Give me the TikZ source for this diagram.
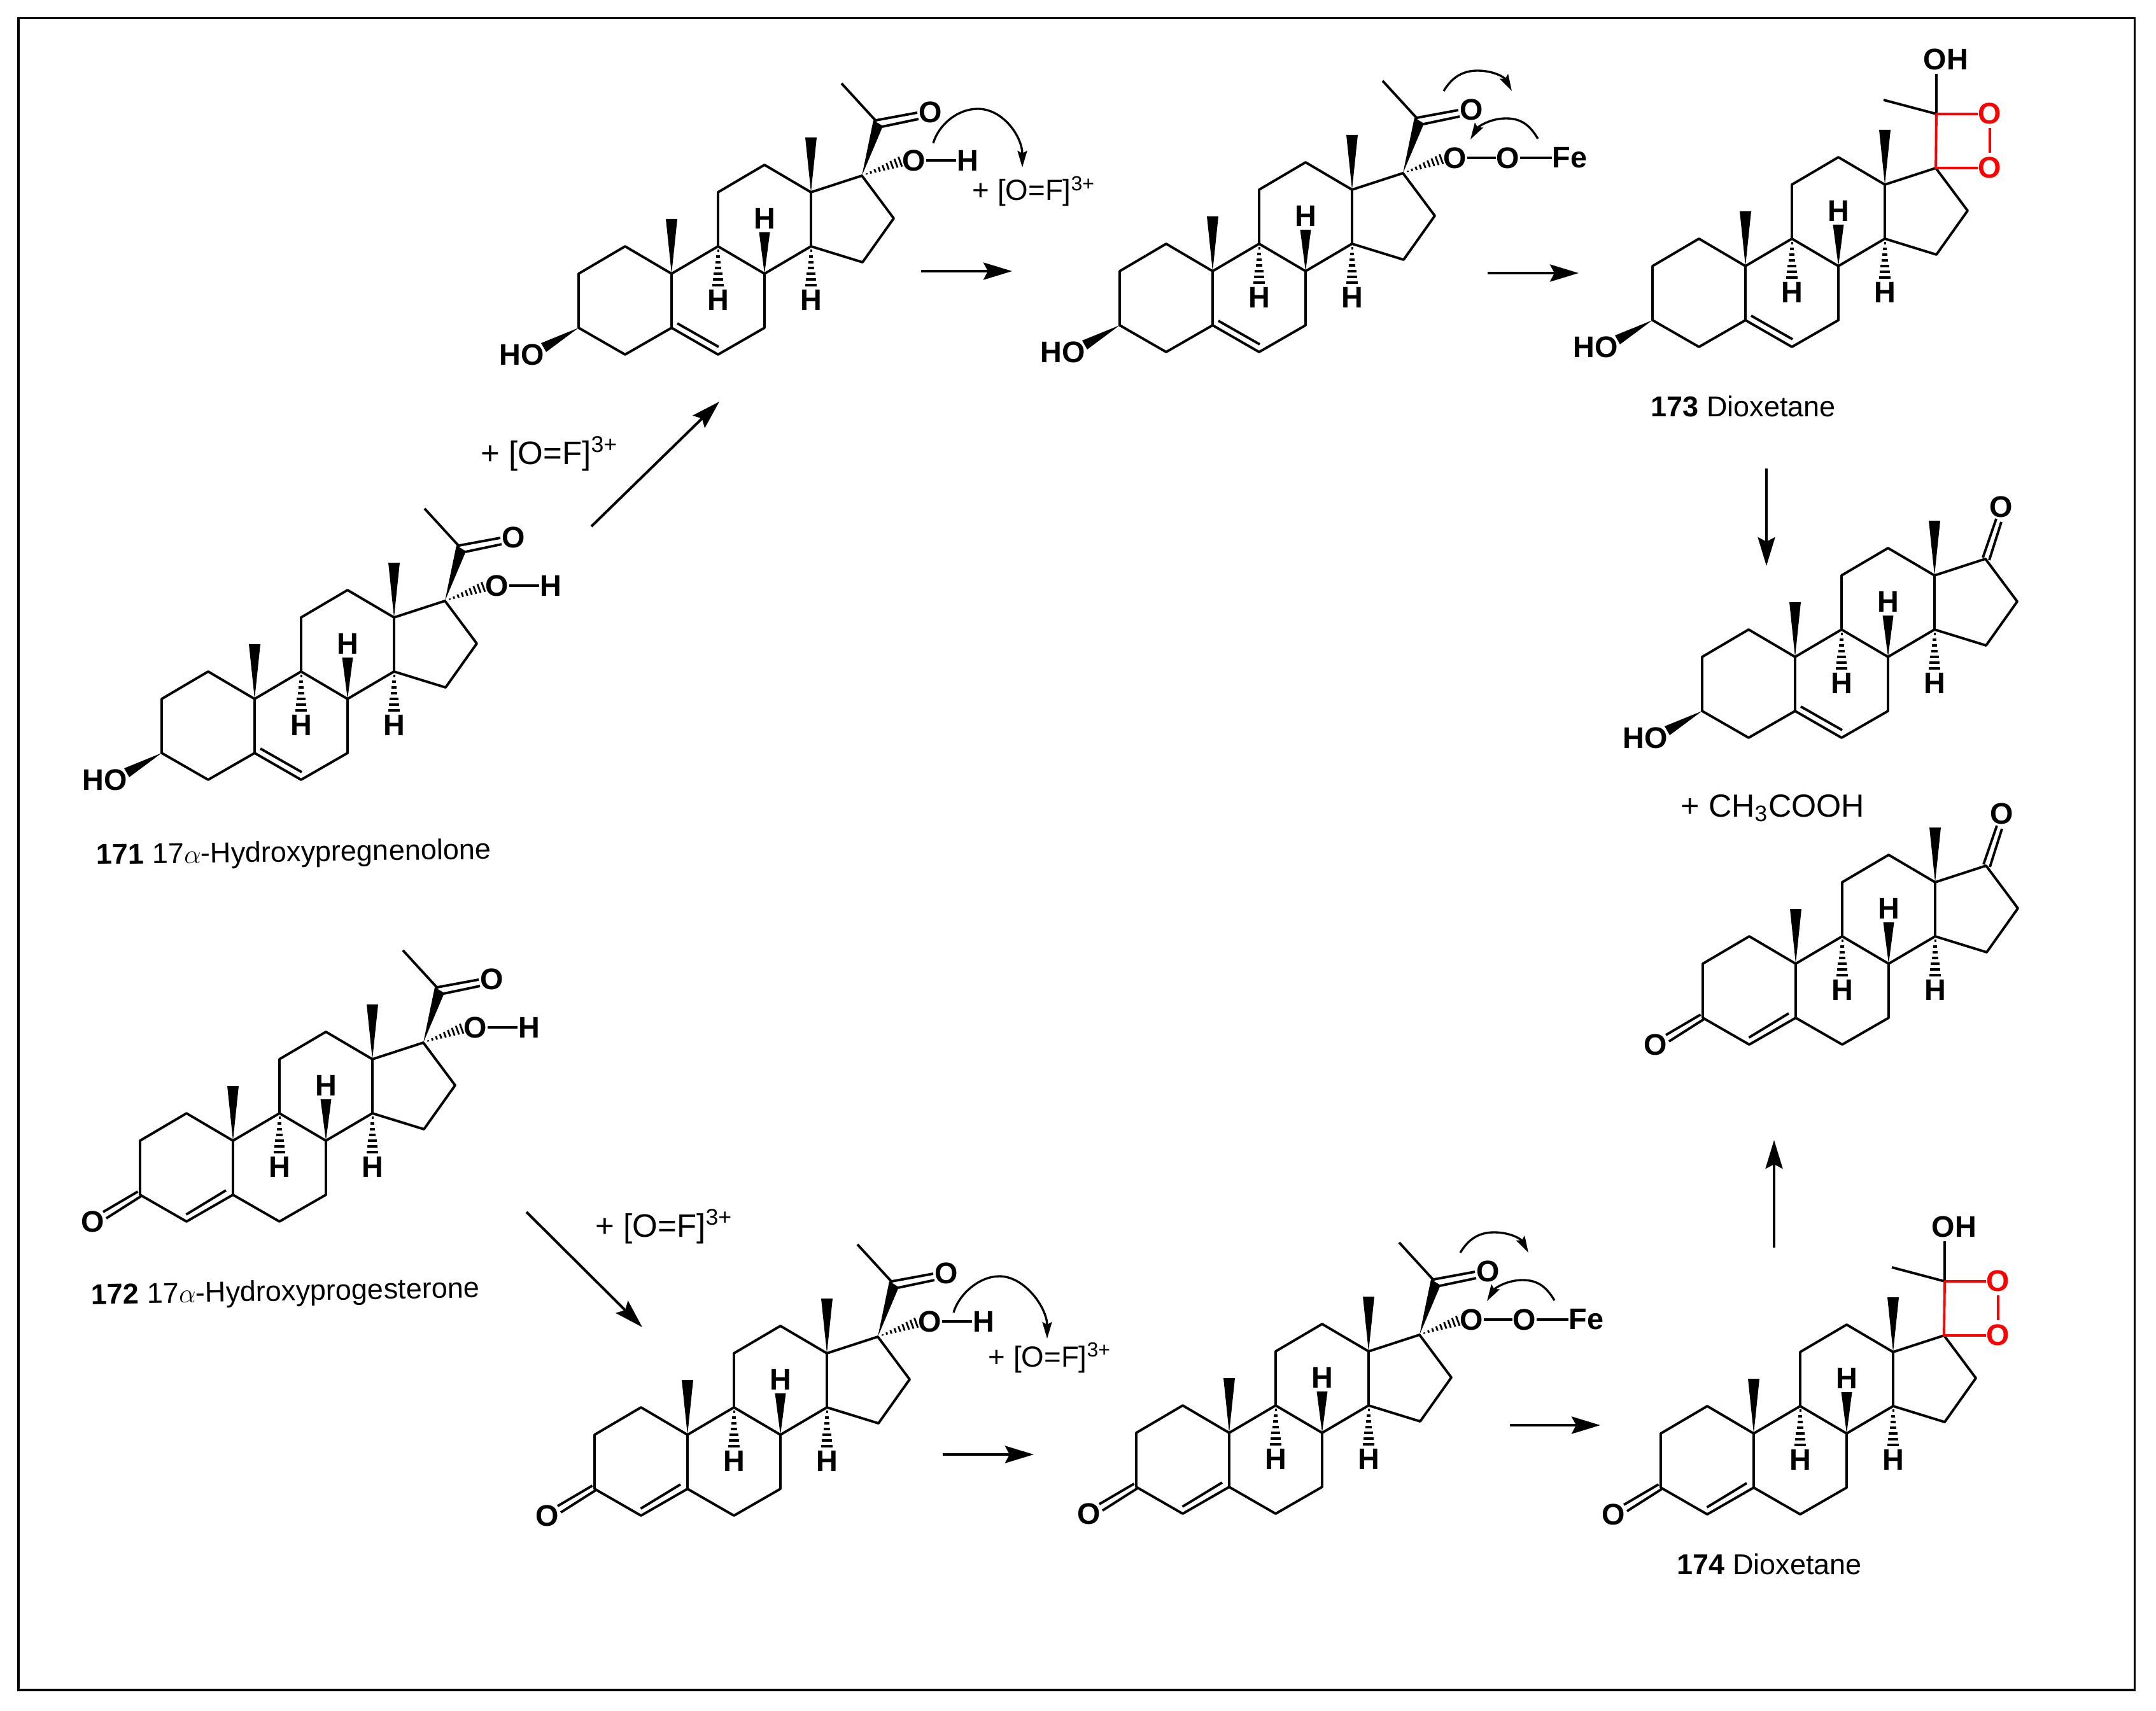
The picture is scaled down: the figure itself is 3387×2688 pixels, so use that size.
\documentclass[tikz,border=0pt]{standalone}
\usepackage{fontspec}
\setmainfont{Liberation Sans}
\usetikzlibrary{arrows.meta,calc}
\definecolor{oxred}{RGB}{255,0,0}
\tikzset{
  bond/.style={line width=1.1pt,line join=round,line cap=butt},
  wedge/.style={fill=black,draw=none},
  hashl/.style={line width=1pt},
  atom/.style={inner sep=0pt,font=\fontsize{13.3}{15}\selectfont\bfseries},
  redatom/.style={atom,text=oxred},
  redbond/.style={bond,draw=oxred},
  rxn/.style={line width=1.15pt,-{Stealth[length=4.5mm,width=2.7mm,inset=0.7mm]}},
  curl/.style={line width=0.95pt,-{Stealth[length=2.6mm,width=1.5mm,inset=0.4mm]}},
  caption/.style={inner sep=0pt,anchor=base west,font=\fontsize{12.8}{15}\selectfont},
  reagent/.style={inner sep=0pt,anchor=base west,font=\fontsize{14.5}{15}\selectfont},
  reagentsm/.style={inner sep=0pt,anchor=base west,font=\fontsize{13}{15}\selectfont},
}
% common tetracyclic skeleton, origin at C10, units = reference pixels
\newcommand\skel[1]{%
  \def\p{#1}%
  \coordinate (C10) at (0,0);
  \coordinate (C1) at (-73,-43);
  \coordinate (C2) at (-146,0);
  \coordinate (C3) at (-146,85);
  \coordinate (C4) at (-73,127);
  \coordinate (C5) at (0,85);
  \coordinate (C6) at (73,127);
  \coordinate (C7) at (146,85);
  \coordinate (C8) at (146,0);
  \coordinate (C9) at (73,-43);
  \coordinate (C11) at (73,-128);
  \coordinate (C12) at (146,-171);
  \coordinate (C13) at (219,-128);
  \coordinate (C14) at (219,-43);
  \coordinate (C15) at (300,-18);
  \coordinate (C16) at (349,-87);
  \coordinate (C17) at (299,-154);
  \draw[bond] (C10)--(C1)--(C2)--(C3)--(C4)--(C5)--cycle;
  \draw[bond] (C5)--(C6)--(C7)--(C8)--(C9)--(C10);
  \draw[bond] (C9)--(C11)--(C12)--(C13)--(C14)--(C8);
  \draw[bond] (C14)--(C15)--(C16)--(C17)--(C13);
  % methyl wedges
  \coordinate (M19) at (0,-86);
  \coordinate (M18) at (219,-214);
  \fill[wedge] (C10) -- ($(M19)+(-9,0)$) -- ($(M19)+(9,0)$) -- cycle;
  \fill[wedge] (C13) -- ($(M18)+(-9,0)$) -- ($(M18)+(9,0)$) -- cycle;
  % 8-H
  \node[atom] (\p-H8) at (146,-87) {H};
  \fill[wedge] (C8) -- (137.5,-65) -- (154.5,-65) -- cycle;
  % 9-H, 14-H
  \node[atom] (\p-H9) at (73,41) {H};
  \node[atom] (\p-H14) at (219,41) {H};
  \foreach \i in {0,...,6}{
    \draw[hashl] ($(C9)+({-1.5-1.3*\i},{7+9*\i})$) -- ($(C9)+({1.5+1.3*\i},{7+9*\i})$);
    \draw[hashl] ($(C14)+({-1.5-1.3*\i},{7+9*\i})$) -- ($(C14)+({1.5+1.3*\i},{7+9*\i})$);
  }
}
% 3-OH, 5-ene
\newcommand\ringol{%
  \draw[bond] (9,78) -- (74,115);
  \fill[wedge] (C3) -- (-205,109) -- (-197,123) -- cycle;
  \node[atom] (\p-HO) at (-235,127) {HO};
}
% 3-one, 4-ene
\newcommand\ringone{%
  \draw[bond] (-73.5,116) -- (-11,78);
  \node[atom] (\p-O3) at (-220,127) {O};
  \draw[bond] (-204,112) -- (-149.5,80);
  \draw[bond] (-199,122) -- (-144,87);
}
% acetyl on C17
\newcommand\acetyl{%
  \coordinate (C20) at (322,-239);
  \coordinate (C21) at (267,-299);
  \fill[wedge] (C17) -- (317,-241) -- (332,-232) -- cycle;
  \draw[bond] (C20) -- (C21);
  \draw[bond] (321,-241) -- (386,-253);
  \draw[bond] (331,-231) -- (388,-243);
  \node[atom] (\p-O20) at (407,-254) {O};
  \foreach \i in {0,...,8}{
    \draw[line width=0.8pt] ($(C17)+({0.94*(8+7*\i)+0.343*(1+0.9*\i)},{-0.343*(8+7*\i)+0.94*(1+0.9*\i)})$)
      -- ($(C17)+({0.94*(8+7*\i)-0.343*(1+0.9*\i)},{-0.343*(8+7*\i)-0.94*(1+0.9*\i)})$);
  }
  \node[atom] (\p-O17) at (381,-178) {O};
}
\newcommand\hydroxyl{%
  \node[atom] (\p-H17) at (465,-178) {H};
  \draw[bond] (\p-O17) -- (\p-H17);
}
\newcommand\peroxyFe{%
  \node[atom] (\p-O2) at (464,-178) {O};
  \node[atom] (\p-Fe) at (561,-178) {Fe};
  \draw[bond] (\p-O17) -- (\p-O2);
  \draw[bond] (\p-O2) -- (\p-Fe);
  \coordinate (s1) at (363,-283);
  \coordinate (a1) at (416,-315);
  \coordinate (t1) at (470,-283);
  \coordinate (s2) at (511,-208);
  \coordinate (a2) at (461,-240);
  \coordinate (t2) at (405,-207);
  \draw[curl] (s1) .. controls ($(s1)+(12,-20)$) and ($(a1)+(-25,0)$) .. (a1)
     .. controls ($(a1)+(25,0)$) and ($(t1)+(-12,-22)$) .. (t1);
  \draw[curl] (s2) .. controls ($(s2)+(-12,-20)$) and ($(a2)+(25,0)$) .. (a2)
     .. controls ($(a2)+(-25,0)$) and ($(t2)+(12,-20)$) .. (t2);
}
\newcommand\bigcurl{%
  \draw[curl] (s) .. controls ($(s)+(9,-30)$) and ($(a)+(-31,0)$) .. (a)
     .. controls ($(a)+(40,0)$) and ($(t)+(0,-48)$) .. (t);
}
\newcommand\ketone{%
  \node[atom] (\p-O17k) at (324,-236) {O};
  \draw[bond] (295,-156) -- (316,-217);
  \draw[bond] (305,-152) -- (324,-212);
}
\newcommand\dioxetane{%
  \coordinate (C20) at (300,-239);
  \coordinate (Me) at (217,-261);
  \coordinate (OHb) at (300,-302);
  \node[atom] (\p-OH) at (315,-325) {OH};
  \node[redatom] (\p-Oa) at (384,-240) {O};
  \node[redatom] (\p-Ob) at (384,-155) {O};
  \draw[bond] (C20) -- (Me);
  \draw[bond] (C20) -- (OHb);
  \draw[redbond] (\p-Oa.west |- C20) -- (C20) -- (C17) -- (\p-Ob.west |- C17);
  \draw[redbond,shorten >=0.6mm,shorten <=0.6mm] (\p-Oa) -- (\p-Ob);
}
\begin{document}
\begin{tikzpicture}[x=0.01cm,y=-0.01cm]
\useasboundingbox (0,0) rectangle (3387,2688);
\fill[white] (0,0) rectangle (3387,2688);
\draw[line width=1pt] (29,28.5) rectangle (3353.5,2655);

% molecules
\begin{scope}[shift={(400,1098)}]\skel{a}\ringol\acetyl\hydroxyl\end{scope}
\begin{scope}[shift={(1055,430)}]\skel{b}\ringol\acetyl\hydroxyl\end{scope}
\begin{scope}[shift={(1905,426)}]\skel{c}\ringol\acetyl\peroxyFe\end{scope}
\begin{scope}[shift={(2742,418)}]\skel{d}\ringol\dioxetane\end{scope}
\begin{scope}[shift={(2820,1032)}]\skel{e}\ringol\ketone\end{scope}
\begin{scope}[shift={(2821,1514)}]\skel{f}\ringone\ketone\end{scope}
\begin{scope}[shift={(366,1792)}]\skel{g}\ringone\acetyl\hydroxyl\end{scope}
\begin{scope}[shift={(1080,2254)}]\skel{h}\ringone\acetyl\hydroxyl\end{scope}
\begin{scope}[shift={(1931,2251)}]\skel{i}\ringone\acetyl\peroxyFe\end{scope}
\begin{scope}[shift={(2755,2252)}]\skel{j}\ringone\dioxetane\end{scope}

% large curved arrows
\coordinate (s) at (1466,225); \coordinate (a) at (1536,171); \coordinate (t) at (1606,263);
\bigcurl
\coordinate (s) at (1498,2062); \coordinate (a) at (1570,2005); \coordinate (t) at (1645,2103);
\bigcurl

% reaction arrows
\coordinate (r1a) at (929,827);   \coordinate (r1b) at (1130,631);
\coordinate (r2a) at (1447,426);  \coordinate (r2b) at (1590,426);
\coordinate (r3a) at (2337,429);  \coordinate (r3b) at (2480,429);
\coordinate (r4a) at (2775,736);  \coordinate (r4b) at (2775,889);
\coordinate (r5a) at (827,1904);  \coordinate (r5b) at (1009,2085);
\coordinate (r6a) at (1481,2285); \coordinate (r6b) at (1624,2285);
\coordinate (r7a) at (2372,2239); \coordinate (r7b) at (2514,2239);
\coordinate (r8a) at (2787,1960); \coordinate (r8b) at (2787,1791);
\draw[rxn] (r1a) -- (r1b);
\draw[rxn] (r2a) -- (r2b);
\draw[rxn] (r3a) -- (r3b);
\draw[rxn] (r4a) -- (r4b);
\draw[rxn] (r5a) -- (r5b);
\draw[rxn] (r6a) -- (r6b);
\draw[rxn] (r7a) -- (r7b);
\draw[rxn] (r8a) -- (r8b);

% reagents
\node[reagent] (lab1) at (755,729) {+ [O=F]\textsuperscript{3+}};
\node[reagent] (lab2) at (935,1943) {+ [O=F]\textsuperscript{3+}};
\node[reagentsm] (lab3) at (1527,315) {+ [O=F]\textsuperscript{3+}};
\node[reagentsm] (lab4) at (1552,2147) {+ [O=F]\textsuperscript{3+}};
\node[inner sep=0pt,anchor=base west,font=\fontsize{14.3}{15}\selectfont] (lab5) at (2640,1283) {+ CH\textsubscript{3}COOH};

% captions
\node[caption,rotate=0.8] (cap171) at (151,1358) {\textbf{171} 17$\alpha$-Hydroxypregnenolone};
\node[caption,rotate=1] (cap172) at (143,2049) {\textbf{172} 17$\alpha$-Hydroxyprogesterone};
\node[caption] (cap173) at (2593,654) {\textbf{173} Dioxetane};
\node[caption] (cap174) at (2634,2473) {\textbf{174} Dioxetane};
\end{tikzpicture}
\end{document}
